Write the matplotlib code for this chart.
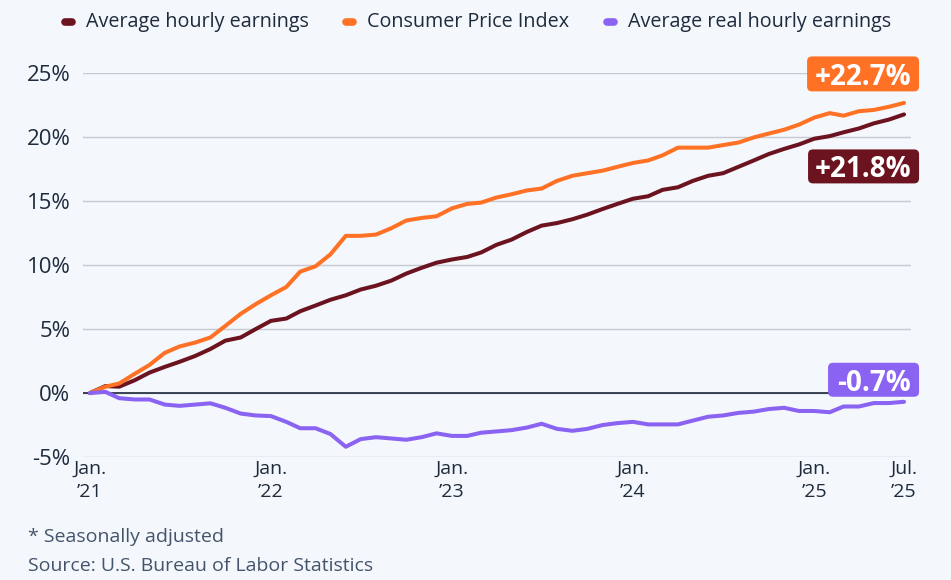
import matplotlib
matplotlib.use("Agg")
import matplotlib.pyplot as plt
import matplotlib.transforms as mtransforms
import matplotlib.dates as mdates
from matplotlib.patches import FancyBboxPatch
from matplotlib.lines import Line2D
import pandas as pd

plt.rcParams['font.family'] = ['Open Sans', 'DejaVu Sans']

# ---------------- data (percent change since Jan 2021) ----------------
months = pd.date_range('2021-01-01', '2025-07-01', freq='MS')

ahe = [0, 0.55, 0.5, 1.0, 1.6, 2.05, 2.45, 2.9, 3.45, 4.1, 4.35, 5.0,
       5.65, 5.83, 6.4, 6.85, 7.3, 7.65, 8.1, 8.4, 8.8, 9.35, 9.8, 10.2,
       10.45, 10.65, 11.0, 11.6, 12.0, 12.6, 13.1, 13.3, 13.6, 13.96, 14.4, 14.8,
       15.2, 15.4, 15.9, 16.1, 16.6, 17.0, 17.2, 17.7, 18.2, 18.7, 19.1, 19.45,
       19.9, 20.1, 20.4, 20.7, 21.1, 21.4, 21.8]

cpi = [0, 0.5, 0.75, 1.5, 2.2, 3.15, 3.65, 3.95, 4.35, 5.25, 6.2, 6.95,
       7.65, 8.3, 9.5, 9.92, 10.85, 12.3, 12.3, 12.4, 12.9, 13.5, 13.7, 13.83,
       14.45, 14.8, 14.9, 15.3, 15.55, 15.85, 16.0, 16.6, 17.0, 17.2, 17.4, 17.7,
       18.0, 18.2, 18.6, 19.2, 19.2, 19.2, 19.4, 19.6, 20.0, 20.3, 20.6, 21.0,
       21.55, 21.9, 21.7, 22.05, 22.15, 22.4, 22.7]

real = [0, 0.1, -0.4, -0.5, -0.5, -0.9, -1.0, -0.9, -0.8, -1.15, -1.6, -1.75,
        -1.8, -2.25, -2.75, -2.75, -3.2, -4.2, -3.6, -3.45, -3.55, -3.65, -3.45, -3.15,
        -3.35, -3.35, -3.1, -3.0, -2.9, -2.7, -2.4, -2.8, -2.95, -2.8, -2.5, -2.35,
        -2.25, -2.45, -2.45, -2.45, -2.15, -1.85, -1.75, -1.55, -1.45, -1.25, -1.15, -1.4,
        -1.4, -1.5, -1.05, -1.05, -0.78, -0.78, -0.68]

series_names = ['Average hourly earnings', 'Consumer Price Index', 'Average real hourly earnings']
end_labels = ['+21.8%', '+22.7%', '-0.7%']

y_ticks = [-5, 0, 5, 10, 15, 20, 25]
y_tick_labels = ['-5%', '0%', '5%', '10%', '15%', '20%', '25%']
x_tick_dates = ['2021-01-01', '2022-01-01', '2023-01-01', '2024-01-01', '2025-01-01', '2025-07-01']
x_tick_labels = ['Jan.\n\u201921', 'Jan.\n\u201922', 'Jan.\n\u201923', 'Jan.\n\u201924', 'Jan.\n\u201925', 'Jul.\n\u201925']

# ---------------- style ----------------
BG = '#F4F7FB'
C_AHE = '#6C1320'
C_CPI = '#FF7226'
C_REAL = '#8A63F2'
TXT = '#1E2B3D'
GRID = '#C6CBD3'

fig = plt.figure(figsize=(9.51, 5.80), dpi=100, facecolor=BG)
ax = fig.add_axes([83 / 951, 1 - 457 / 580, (911 - 83) / 951, (457 - 73.5) / 580])
ax.set_facecolor(BG)

for v in ax.spines.values():
    v.set_visible(False)

ax.set_ylim(-5, 25)
pad = pd.Timedelta(days=14)
ax.set_xlim(months[0] - pad, months[-1] + pad)

ax.set_yticks(y_ticks)
ax.set_yticklabels(y_tick_labels)
ax.set_xticks(pd.to_datetime(x_tick_dates))
ax.set_xticklabels(x_tick_labels, linespacing=1.35)
ax.tick_params(axis='y', length=0, pad=9, labelsize=16, labelcolor=TXT)
ax.tick_params(axis='x', length=0, pad=2, labelsize=14, labelcolor=TXT)
ax.yaxis.grid(True, color=GRID, lw=1.0)
ax.set_axisbelow(True)
ax.axhline(0, color='#1B2838', lw=1.2, zorder=2)

colors = [C_AHE, C_CPI, C_REAL]
data = [ahe, cpi, real]
for vals, c in zip(data, colors):
    ax.plot(months, vals, color=c, lw=2.9, solid_joinstyle='round', solid_capstyle='round', zorder=3)

# end labels (box geometry in inches relative to last data point)
boxes = [
    (-0.96, -0.69, 1.11, 0.34),   # AHE
    (-0.97, 0.115, 1.12, 0.35),   # CPI
    (-0.76, 0.05, 0.91, 0.34),    # real
]
x_last = mdates.date2num(months[-1])
for vals, c, lab, (bx, by, bw, bh) in zip(data, colors, end_labels, boxes):
    tr = fig.dpi_scale_trans + mtransforms.ScaledTranslation(x_last, vals[-1], ax.transData)
    patch = FancyBboxPatch((bx, by), bw, bh, boxstyle='round,pad=0,rounding_size=0.05',
                           transform=tr, fc=c, ec='none', clip_on=False, zorder=5)
    fig.add_artist(patch)
    fig.text(bx + bw / 2, by + bh / 2, lab, transform=tr, ha='center', va='center_baseline',
             color='white', fontsize=20, fontweight='bold', zorder=6)

# legend (manual)
leg_y = 1 - 22 / 580
text_x = [86, 367, 628]
for name, c, tx in zip(series_names, colors, text_x):
    fig.add_artist(Line2D([(tx - 21) / 951, (tx - 14) / 951], [leg_y, leg_y], color=c, lw=5.5,
                          solid_capstyle='round', transform=fig.transFigure))
    fig.text(tx / 951, leg_y, name, ha='left', va='center', fontsize=14.2, color=TXT)

# footer
fig.text(28 / 951, 1 - 537 / 580, '* Seasonally adjusted', ha='left', va='center', fontsize=14, color='#44546A')
fig.text(28 / 951, 1 - 566 / 580, 'Source: U.S. Bureau of Labor Statistics', ha='left', va='center',
         fontsize=14, color='#44546A')

fig.savefig('out.png', dpi=100, facecolor=BG)
